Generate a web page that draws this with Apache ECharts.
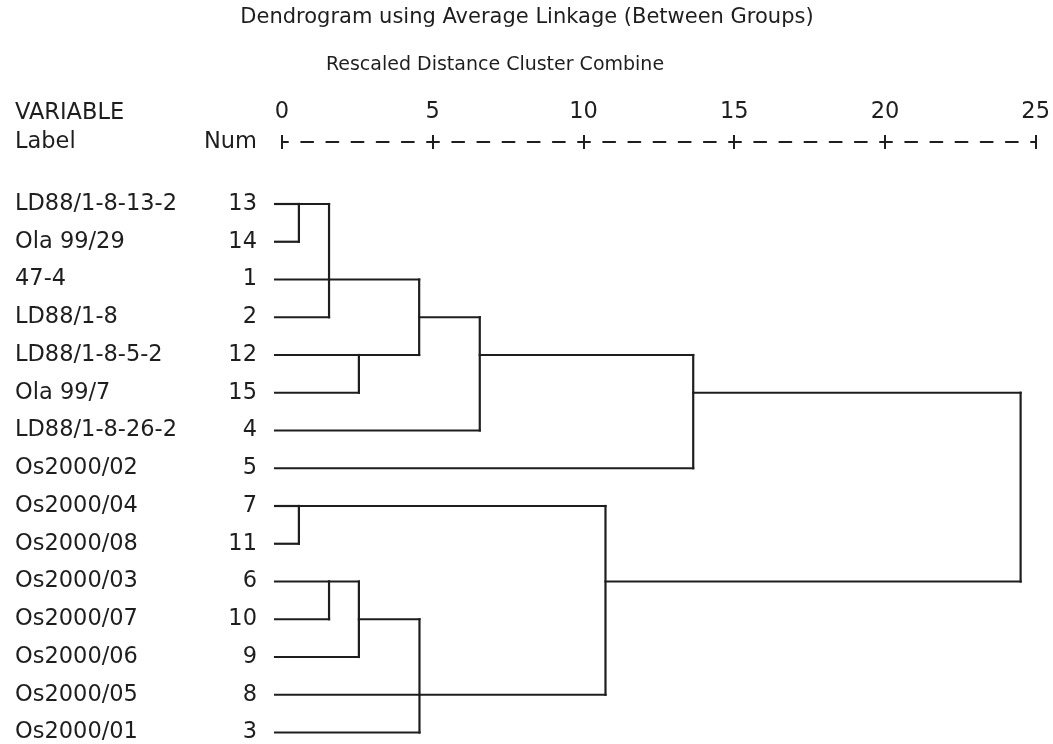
<!DOCTYPE html>
<html>
<head>
<meta charset="utf-8">
<title>Dendrogram</title>
<script src="https://cdn.jsdelivr.net/npm/echarts@6/dist/echarts.min.js"></script>
<style>
  html, body { margin: 0; padding: 0; background: #fff; }
  #main { width: 1053px; height: 744px; }
</style>
</head>
<body>
<div id="main"></div>
<script type="text/javascript">
// leaves, top to bottom
var labelNames = ['LD88/1-8-13-2', 'Ola 99/29', '47-4', 'LD88/1-8', 'LD88/1-8-5-2', 'Ola 99/7',
  'LD88/1-8-26-2', 'Os2000/02', 'Os2000/04', 'Os2000/08', 'Os2000/03', 'Os2000/07',
  'Os2000/06', 'Os2000/05', 'Os2000/01'];
var labelNums = [13, 14, 1, 2, 12, 15, 4, 5, 7, 11, 6, 10, 9, 8, 3];

// merges: children are leaf index (0-14) or 15+k for merge k
var mergeChildren = [
  [0, 1], [15, 2, 3], [4, 5], [16, 17], [18, 6], [19, 7],
  [8, 9], [10, 11], [22, 12], [23, 13, 14], [21, 24], [20, 25]
];
var mergeHeights = [0.56, 1.56, 2.55, 4.55, 6.56, 13.64, 0.56, 1.56, 2.55, 4.56, 10.73, 24.5];
// row where the joined cluster carries on
var mergeRows = [0, 2, 4, 3, 4, 5, 8, 10, 11, 13, 10, null];

var xTicks = [0, 5, 10, 15, 20, 25];
var leafX = -0.23;

var ink = '#1e1e1e';
var font = 'DejaVu Sans';
var fs = 22.5;

// build segments [x1, y1, x2, y2]
var nLeaf = labelNames.length;
function nodeRow(id) { return id < nLeaf ? id : mergeRows[id - nLeaf]; }
function nodeX(id) { return id < nLeaf ? leafX : mergeHeights[id - nLeaf]; }
var segs = [];
for (var k = 0; k < mergeChildren.length; k++) {
  var h = mergeHeights[k];
  var rows = [];
  for (var j = 0; j < mergeChildren[k].length; j++) {
    var c = mergeChildren[k][j];
    var r = nodeRow(c);
    rows.push(r);
    segs.push([nodeX(c), r, h, r]);
  }
  segs.push([h, Math.min.apply(null, rows), h, Math.max.apply(null, rows)]);
}

var gridLeft = 282, gridRight = 16;
var period = (1053 - gridLeft - gridRight) / 30;

var myChart = echarts.init(document.getElementById('main'));
var option = {
  backgroundColor: '#fff',
  animation: false,
  textStyle: { fontFamily: font, color: ink },
  grid: { left: gridLeft, right: gridRight, top: 204, bottom: 11 },
  graphic: [
    { type: 'text', x: 527, y: 18, style: { text: 'Dendrogram using Average Linkage (Between Groups)', font: '21px ' + font, fill: ink, align: 'center', verticalAlign: 'middle' } },
    { type: 'text', x: 495, y: 65, style: { text: 'Rescaled Distance Cluster Combine', font: '19px ' + font, fill: ink, align: 'center', verticalAlign: 'middle' } },
    { type: 'text', x: 15, y: 113, style: { text: 'VARIABLE', font: fs + 'px ' + font, fill: ink, verticalAlign: 'middle' } },
    { type: 'text', x: 15, y: 142, style: { text: 'Label', font: fs + 'px ' + font, fill: ink, verticalAlign: 'middle' } },
    { type: 'text', x: 257, y: 142, style: { text: 'Num', font: fs + 'px ' + font, fill: ink, align: 'right', verticalAlign: 'middle' } }
  ],
  xAxis: [
    {
      type: 'value', position: 'top', offset: 62,
      min: xTicks[0], max: xTicks[xTicks.length - 1], interval: 5,
      splitLine: { show: false },
      axisLine: { show: true, onZero: false, lineStyle: { color: ink, width: 2, type: [12, period - 12], dashOffset: 6 } },
      axisTick: { show: true, length: 7, lineStyle: { color: ink, width: 2 } },
      axisLabel: { show: true, margin: 18, fontSize: fs, fontFamily: font, color: ink }
    },
    {
      type: 'value', position: 'top', offset: 62,
      min: xTicks[0], max: xTicks[xTicks.length - 1], interval: 5,
      splitLine: { show: false },
      axisLine: { show: false, onZero: false },
      axisTick: { show: true, inside: true, length: 7, lineStyle: { color: ink, width: 2 } },
      axisLabel: { show: false }
    }
  ],
  yAxis: {
    type: 'value', inverse: true, min: 0, max: nLeaf - 1, interval: 1,
    splitLine: { show: false },
    axisLine: { show: false },
    axisTick: { show: false },
    axisLabel: {
      margin: 25,
      formatter: function (v) {
        return '{n|' + labelNames[v] + '}{m|' + labelNums[v] + '}';
      },
      rich: {
        n: { width: 197, align: 'left', fontSize: fs, fontFamily: font, color: ink },
        m: { width: 45, align: 'right', fontSize: fs, fontFamily: font, color: ink }
      }
    }
  },
  series: [{
    type: 'custom',
    xAxisIndex: 0,
    data: segs,
    encode: { x: [0, 2], y: [1, 3] },
    clip: false,
    renderItem: function (params, api) {
      var p1 = api.coord([api.value(0), api.value(1)]);
      var p2 = api.coord([api.value(2), api.value(3)]);
      return {
        type: 'line',
        shape: { x1: p1[0], y1: p1[1], x2: p2[0], y2: p2[1] },
        style: { stroke: ink, lineWidth: 2.2, lineCap: 'square' }
      };
    }
  }]
};
myChart.setOption(option);
</script>
</body>
</html>
